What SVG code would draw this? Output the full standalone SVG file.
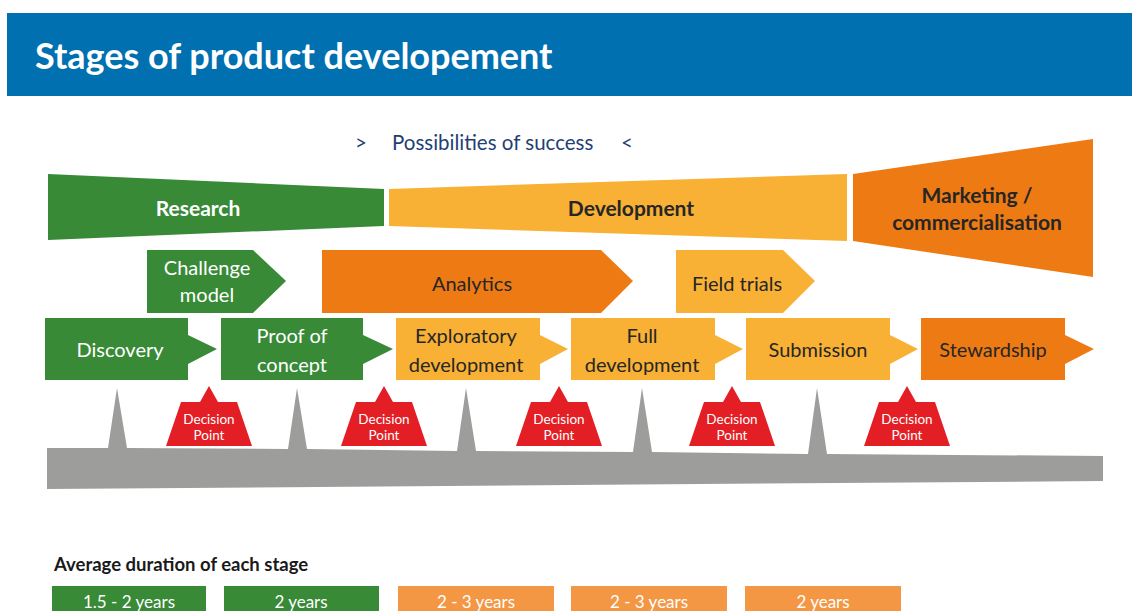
<svg xmlns="http://www.w3.org/2000/svg" width="1132" height="611" viewBox="0 0 1132 611">
  <style>
    text { font-family: Lato, "Liberation Sans", sans-serif; text-anchor: middle; }
    .title { font-size: 36px; font-weight: bold; fill: #fff; text-anchor: start; }
    .sub { font-size: 20.5px; fill: #1F3F74; text-anchor: start; }
    .band { font-size: 21px; font-weight: bold; }
    .lbl { font-size: 20px; }
    .w { fill: #fff; }
    .d { fill: #262626; }
    .dp { font-size: 13.5px; fill: #fff; }
    .green { fill: #388A37; }
    .yellow { fill: #F8B134; }
    .orange { fill: #EE7A14; }
    .red { fill: #E31E24; }
    .gray { fill: #9D9D9C; }
    .dur { fill: #F39744; }
    .head { font-size: 18.5px; font-weight: bold; fill: #1a1a1a; text-anchor: start; }
    .yrs { font-size: 17px; fill: #fff; }
  </style>

  <!-- header -->
  <g id="header">
    <rect x="7" y="13" width="1125" height="83" fill="#0070B0"/>
    <text class="title" x="35" y="69">Stages of product developement</text>
  </g>

  <g id="success">
    <text class="sub" x="355" y="150">&gt;</text>
    <text class="sub" x="392" y="150">Possibilities of success</text>
    <text class="sub" x="621" y="150">&lt;</text>
  </g>

  <!-- phase bands -->
  <g id="research">
    <polygon class="green" points="48,174 384,189 384,226 48,240"/>
    <text class="band w" x="198" y="216">Research</text>
  </g>
  <g id="development">
    <polygon class="yellow" points="389,189 847,174 847,241 389,226"/>
    <text class="band d" x="631" y="216">Development</text>
  </g>
  <g id="marketing">
    <polygon class="orange" points="853,174 1093,139 1093,277 853,241"/>
    <text class="band d" x="977" y="203">Marketing /</text>
    <text class="band d" x="977" y="230">commercialisation</text>
  </g>

  <!-- middle row chevrons -->
  <g id="challenge-model">
    <polygon class="green" points="147,250 253,250 286,281 253,313 147,313"/>
    <text class="lbl w" x="207" y="275">Challenge</text>
    <text class="lbl w" x="207" y="302">model</text>
  </g>
  <g id="analytics">
    <polygon class="orange" points="322,250 601,250 633,281 601,313 322,313"/>
    <text class="lbl d" x="472" y="291">Analytics</text>
  </g>
  <g id="field-trials">
    <polygon class="yellow" points="676,250 783,250 815,281 783,313 676,313"/>
    <text class="lbl d" x="737" y="291">Field trials</text>
  </g>

  <!-- stage chevrons -->
  <g id="discovery">
    <polygon class="green" points="45,318 188,318 188,335 217,349 188,364 188,380 45,380"/>
    <text class="lbl w" x="120" y="357">Discovery</text>
  </g>
  <g id="proof-of-concept">
    <polygon class="green" points="221,318 363,318 363,335 393,349 363,364 363,380 221,380"/>
    <text class="lbl w" x="292" y="343">Proof of</text>
    <text class="lbl w" x="292" y="372">concept</text>
  </g>
  <g id="exploratory-development">
    <polygon class="yellow" points="396,318 540,318 540,335 568,349 540,364 540,380 396,380"/>
    <text class="lbl d" x="466" y="343">Exploratory</text>
    <text class="lbl d" x="466" y="372">development</text>
  </g>
  <g id="full-development">
    <polygon class="yellow" points="571,318 715,318 715,335 743,349 715,364 715,380 571,380"/>
    <text class="lbl d" x="642" y="343">Full</text>
    <text class="lbl d" x="642" y="372">development</text>
  </g>
  <g id="submission">
    <polygon class="yellow" points="746,318 890,318 890,335 918,349 890,364 890,380 746,380"/>
    <text class="lbl d" x="818" y="357">Submission</text>
  </g>
  <g id="stewardship">
    <polygon class="orange" points="921,318 1065,318 1065,335 1094,349 1065,364 1065,380 921,380"/>
    <text class="lbl d" x="993" y="357">Stewardship</text>
  </g>

  <!-- timeline base with stage spikes -->
  <g id="timeline">
    <polygon class="gray" points="47,448 108,448 117,388 127,448 288,449 297,388 307,449 457,451 466,388 476,451 633,452 642,388 652,452 808,454 817,388 827,454 1103,456 1103,481 47,489"/>
  </g>

  <!-- decision points -->
  <defs>
    <path id="dp" d="M0,-60 L9,-44 L28,-44 L43,0 L-43,0 L-28,-44 L-9,-44 Z"/>
  </defs>
  <g id="decision-1">
    <use href="#dp" class="red" x="209" y="446"/>
    <text class="dp" x="209" y="424">Decision</text>
    <text class="dp" x="209" y="440">Point</text>
  </g>
  <g id="decision-2">
    <use href="#dp" class="red" x="384" y="446"/>
    <text class="dp" x="384" y="424">Decision</text>
    <text class="dp" x="384" y="440">Point</text>
  </g>
  <g id="decision-3">
    <use href="#dp" class="red" x="559" y="446"/>
    <text class="dp" x="559" y="424">Decision</text>
    <text class="dp" x="559" y="440">Point</text>
  </g>
  <g id="decision-4">
    <use href="#dp" class="red" x="732" y="446"/>
    <text class="dp" x="732" y="424">Decision</text>
    <text class="dp" x="732" y="440">Point</text>
  </g>
  <g id="decision-5">
    <use href="#dp" class="red" x="907" y="446"/>
    <text class="dp" x="907" y="424">Decision</text>
    <text class="dp" x="907" y="440">Point</text>
  </g>

  <!-- durations -->
  <g id="durations">
    <text class="head" x="54" y="571">Average duration of each stage</text>
    <rect class="green" x="52" y="586" width="154" height="30"/>
    <text class="yrs" x="129" y="608">1.5 - 2 years</text>
    <rect class="green" x="224" y="586" width="155" height="30"/>
    <text class="yrs" x="301" y="608">2 years</text>
    <rect class="dur" x="398" y="586" width="156" height="30"/>
    <text class="yrs" x="476" y="608">2 - 3 years</text>
    <rect class="dur" x="571" y="586" width="156" height="30"/>
    <text class="yrs" x="649" y="608">2 - 3 years</text>
    <rect class="dur" x="745" y="586" width="156" height="30"/>
    <text class="yrs" x="823" y="608">2 years</text>
  </g>
</svg>
